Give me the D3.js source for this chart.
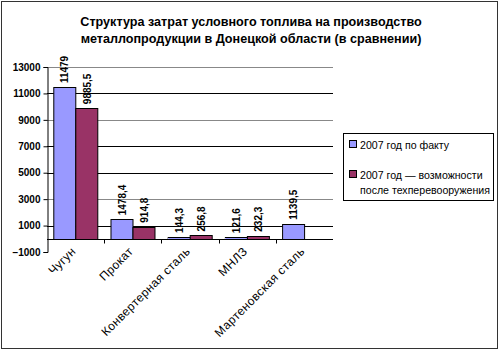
<!DOCTYPE html>
<html>
<head>
<meta charset="utf-8">
<script src="https://cdn.jsdelivr.net/npm/d3@7"></script>
<style>
  body { margin: 0; background: #fff; }
  svg { font-family: Arial, "Liberation Sans", sans-serif; }
</style>
</head>
<body>
<div id="chart"></div>
<script>
const categories = ["Чугун", "Прокат", "Конвертерная сталь", "МНЛЗ", "Мартеновская сталь"];
const seriesNames = ["2007 год по факту", "2007 год — возможности после техперевооружения"];
const factValues = [11479, 1478.4, 144.3, 121.6, 1139.5];
const possibleValues = [9885.5, 914.8, 256.8, 232.3, null];
const yTicks = [-1000, 1000, 3000, 5000, 7000, 9000, 11000, 13000];
const colors = ["#9999ff", "#993366"];

const W = 500, H = 351;
const plot = { left: 47, right: 333, top: 67, bottom: 252 };

const svg = d3.select("#chart").append("svg")
    .attr("width", W).attr("height", H);

svg.append("rect")
    .attr("x", 1.5).attr("y", 1.5)
    .attr("width", 496).attr("height", 347)
    .attr("fill", "#fff").attr("stroke", "#333");

// title
svg.append("text")
    .attr("x", 251).attr("y", 26)
    .attr("text-anchor", "middle")
    .attr("font-size", 12.6).attr("font-weight", "bold")
    .text("Структура затрат условного топлива на производство");
svg.append("text")
    .attr("x", 251).attr("y", 43)
    .attr("text-anchor", "middle")
    .attr("font-size", 12.6).attr("font-weight", "bold")
    .text("металлопродукции в Донецкой области (в сравнении)");

const y = d3.scaleLinear().domain([-1000, 13000]).range([plot.bottom, plot.top]);
const x0 = d3.scaleBand().domain(categories).range([plot.left, plot.right])
    .paddingInner(0.22).paddingOuter(0.11);
const x1 = d3.scaleBand().domain([0, 1]).range([0, x0.bandwidth()]);

// gridlines (the picture shows alternating dark / gray lines)
const gridColor = { 13000: "#888", 11000: "#000", 9000: "#888", 7000: "#000", 5000: "#000", 3000: "#888", 1000: "#000" };
svg.append("g").selectAll("line")
    .data(yTicks.filter(t => t > -1000))
    .join("line")
    .attr("x1", plot.left).attr("x2", plot.right)
    .attr("y1", d => Math.round(y(d)) + 0.5).attr("y2", d => Math.round(y(d)) + 0.5)
    .attr("stroke", d => gridColor[d]).attr("stroke-width", 1);

// y axis
const yAxis = svg.append("g")
    .attr("transform", `translate(${plot.left + 0.5},0)`)
    .call(d3.axisLeft(y).tickValues(yTicks).tickSize(4).tickPadding(3).tickFormat(d3.format("d")));
yAxis.select(".domain").attr("stroke", "#000");
yAxis.selectAll("text").attr("font-size", 10).attr("font-weight", "bold")
    .attr("font-family", "Arial, 'Liberation Sans', sans-serif").attr("fill", "#000");

// bars
const rows = categories.map((c, i) => ({ cat: c, vals: [factValues[i], possibleValues[i]] }));
const groups = svg.append("g").selectAll("g")
    .data(rows).join("g")
    .attr("transform", d => `translate(${x0(d.cat)},0)`);

const fmt = v => String(v).replace(".", ",");

groups.selectAll("rect")
    .data(d => d.vals.map((v, k) => ({ v, k })).filter(e => e.v != null))
    .join("rect")
    .attr("x", e => Math.round(x1(e.k)) + 0.5)
    .attr("y", e => Math.round(y(e.v)) + 0.5)
    .attr("width", Math.round(x1.bandwidth()))
    .attr("height", e => Math.round(y(0)) - Math.round(y(e.v)))
    .attr("fill", e => colors[e.k])
    .attr("stroke", "#000").attr("stroke-width", 1);

groups.selectAll("text")
    .data(d => d.vals.map((v, k) => ({ v, k })).filter(e => e.v != null))
    .join("text")
    .attr("transform", e => `translate(${x1(e.k) + x1.bandwidth() / 2 + 4},${y(e.v) - 4}) rotate(-90)`)
    .attr("font-size", 10).attr("font-weight", "bold")
    .text(e => fmt(e.v));

// category axis at zero
const xAxis = svg.append("g")
    .attr("transform", `translate(0,${Math.round(y(0)) + 0.5})`);
xAxis.append("line")
    .attr("x1", plot.left).attr("x2", plot.right)
    .attr("stroke", "#000");
const step = x0.step();
const bounds = d3.range(categories.length + 1).map(i => plot.left + i * step);
xAxis.selectAll(".tk").data(bounds.slice(1, -1)).join("line")
    .attr("class", "tk")
    .attr("x1", d => Math.round(d) + 0.5).attr("x2", d => Math.round(d) + 0.5)
    .attr("y1", 0).attr("y2", 4).attr("stroke", "#000");

svg.append("g").selectAll("text")
    .data(categories).join("text")
    .attr("transform", d => `translate(${x0(d) + x0.bandwidth() / 2 + 1},${plot.bottom}) rotate(-45)`)
    .attr("text-anchor", "end")
    .attr("font-size", 12).attr("letter-spacing", 0.4)
    .text(d => d);

// legend
const lg = svg.append("g");
lg.append("rect")
    .attr("x", 343.5).attr("y", 133.5).attr("width", 150).attr("height", 67)
    .attr("fill", "#fff").attr("stroke", "#000");
const items = [
    { lines: [seriesNames[0]], y: 149, c: colors[0] },
    { lines: ["2007 год — возможности", "после техперевооружения"], y: 179, c: colors[1] }
];
items.forEach(it => {
    lg.append("rect").attr("x", 349.5).attr("y", it.y - 8.5).attr("width", 7).attr("height", 7)
        .attr("fill", it.c).attr("stroke", "#000");
    it.lines.forEach((l, j) => {
        lg.append("text").attr("x", 360).attr("y", it.y + j * 15)
            .attr("font-size", 10.6).text(l);
    });
});
</script>
</body>
</html>
